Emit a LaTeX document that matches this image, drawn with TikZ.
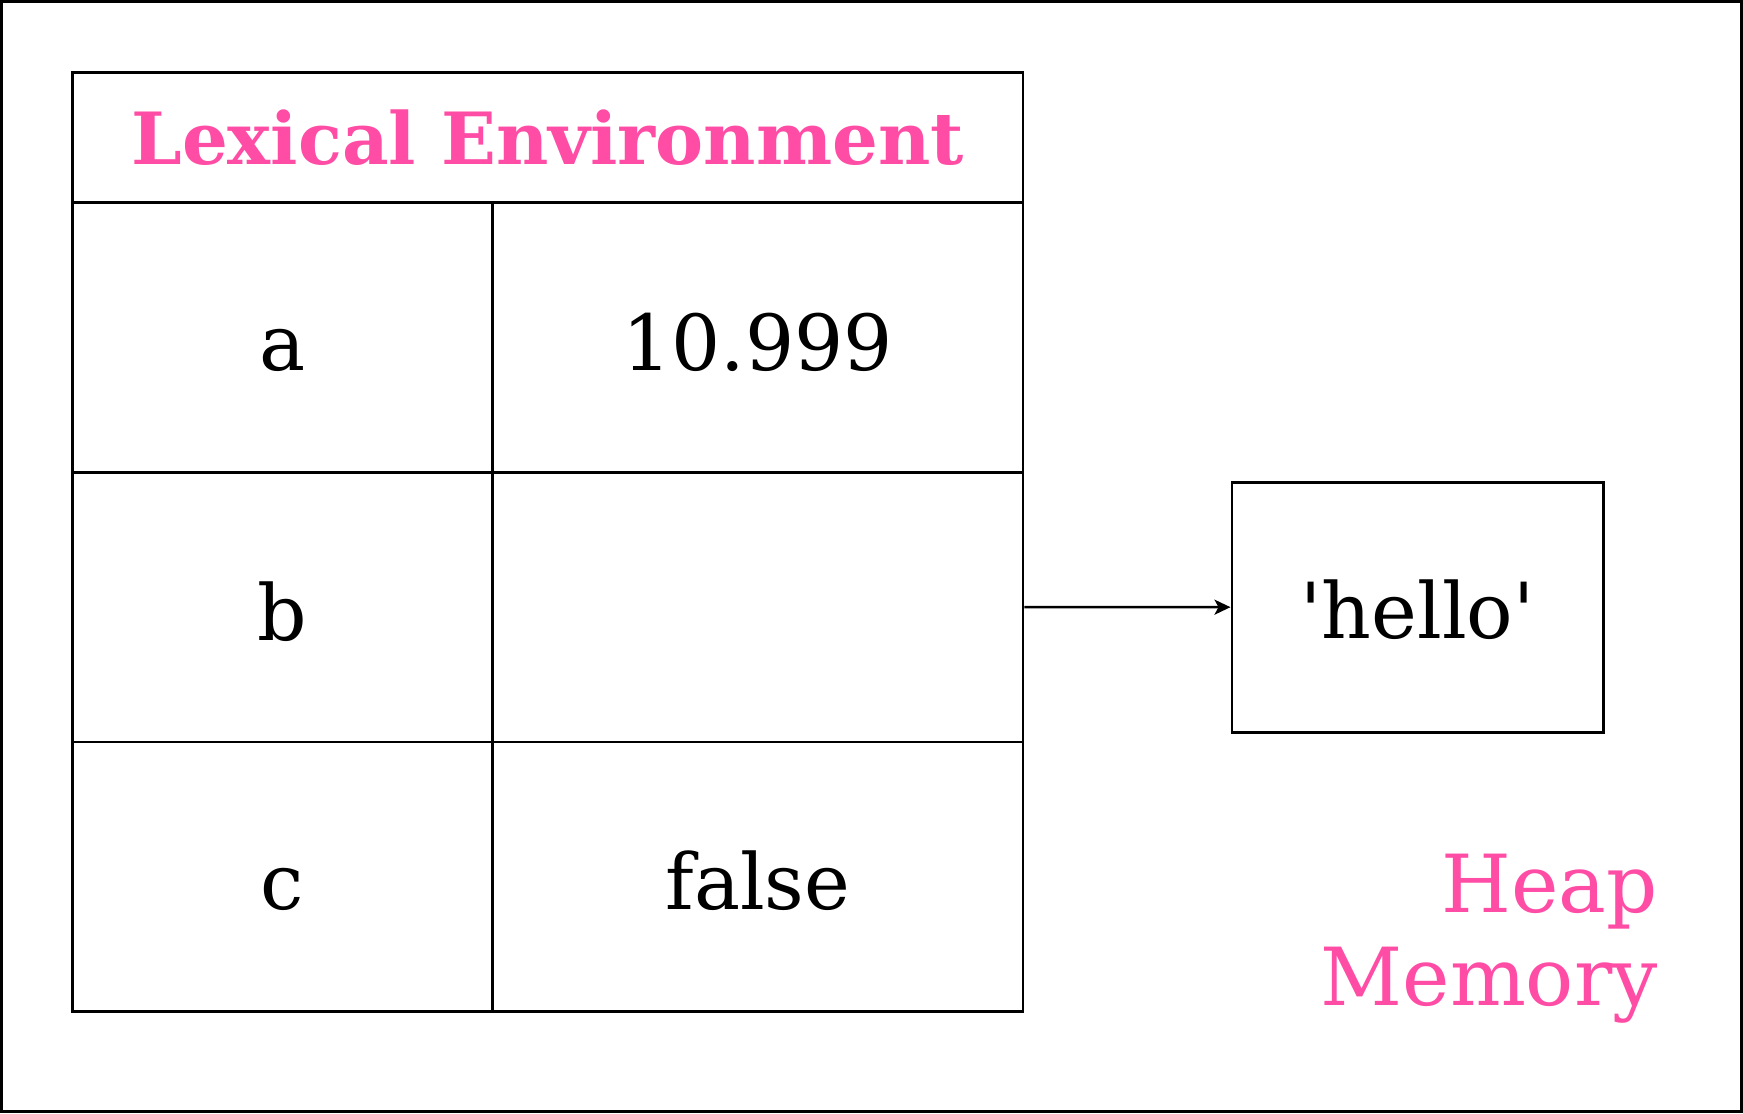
\documentclass[tikz,border=0pt]{standalone}
\usepackage{fontspec}
\setmainfont{DejaVu Serif}
\usetikzlibrary{arrows.meta}
\definecolor{heappink}{HTML}{FF4DA6}

\begin{document}
\begin{tikzpicture}[cellstyle/.style={draw, black, line width=0.8pt, anchor=north west, inner sep=0pt, minimum height=2.697cm, text height=0.86cm, text depth=0.2cm, align=center, font=\fontsize{22}{26}\selectfont},
  titlestyle/.style={draw, black, line width=0.8pt, anchor=north west, inner sep=0pt, minimum height=1.30cm, minimum width=9.505cm, text=heappink, font=\fontsize{20.5}{24}\selectfont\bfseries}]
  \path[use as bounding box] (0,0) rectangle (17.43,-11.13);
  \draw [line width=0.033cm] (0.0165,-0.0165) rectangle (17.4135,-11.1135);

  \node [titlestyle] (EnvTitle) at (0.711,-0.711) {Lexical Environment};

  \node [cellstyle, minimum width=4.202cm] (EnvA) at (0.711,-2.012) {a};
  \node [cellstyle, minimum width=5.303cm] (EnvAVal) at (4.913,-2.012) {10.999};
  \node [cellstyle, minimum width=4.202cm] (EnvB) at (0.711,-4.709) {b};
  \node [cellstyle, minimum width=5.303cm] (EnvBVal) at (4.913,-4.709) {};
  \node [cellstyle, minimum width=4.202cm] (EnvC) at (0.711,-7.406) {c};
  \node [cellstyle, minimum width=5.303cm] (EnvCVal) at (4.913,-7.406) {false};

  \node [cellstyle, minimum width=3.713cm, minimum height=2.501cm, text height=0.82cm] (Hello) at (12.305,-4.807) {\textquotesingle hello\textquotesingle};
  \draw [-{Stealth[length=1.6mm, width=1.5mm, inset=0.4mm]}, line width=0.7pt] (EnvBVal.east) -- (Hello.west);

  \node [anchor=north east, inner sep=0pt, align=right, text=heappink, font=\fontsize{22.8}{26.4}\selectfont] (HeapLabel) at (16.585,-8.537) {Heap\\Memory};
\end{tikzpicture}
\end{document}
